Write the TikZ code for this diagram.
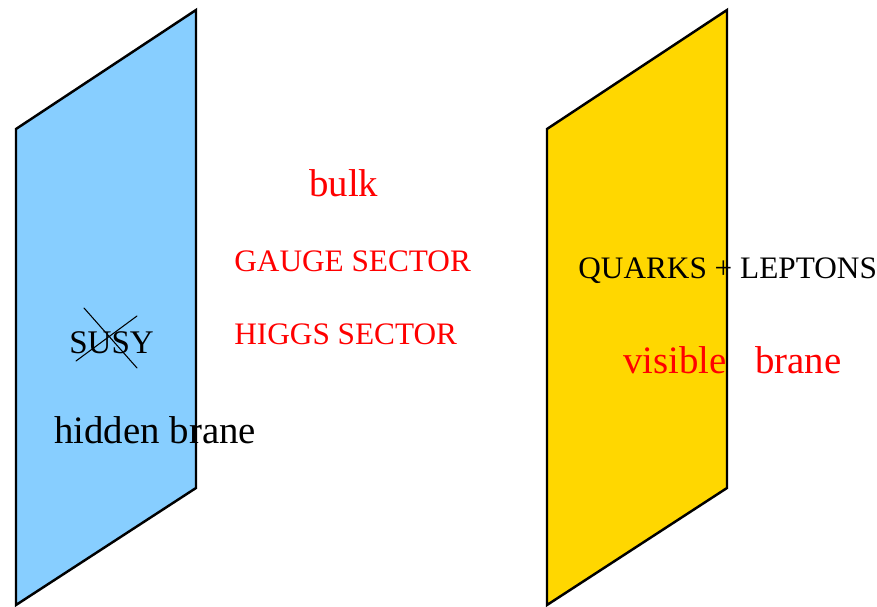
\documentclass[tikz,border=0pt]{standalone}
\usepackage{fontspec}
\setmainfont{Liberation Serif}
\definecolor{hiddenblue}{RGB}{135,206,255}
\definecolor{visiblegold}{RGB}{255,215,0}
\tikzset{
  brane/.style={draw=black, line width=1.4pt, line join=miter},
  caps/.style={inner sep=0pt, anchor=base west, font=\fontsize{17.8}{20}\selectfont},
  words/.style={inner sep=0pt, anchor=base west, font=\fontsize{22.1}{25}\selectfont},
}
\begin{document}
\begin{tikzpicture}[x=0.02cm, y=-0.02cm, line cap=round, line join=round]
\useasboundingbox (0,0) rectangle (877,607);
\path (16,129)coordinate(H1) (196,10)coordinate(H2) (196,488)coordinate(H3) (16,605)coordinate(H4);
\path (547,129)coordinate(V1) (727,10)coordinate(V2) (727,488)coordinate(V3) (547,605)coordinate(V4);
\draw[brane, fill=hiddenblue] (H1)--(H2)--(H3)--(H4)--cycle;
\draw[brane, fill=visiblegold] (V1)--(V2)--(V3)--(V4)--cycle;
% bulk
\node[words, text=red] (bulk) at (309,197) {bulk};
\node[caps, text=red] (gauge) at (234,272) {GAUGE SECTOR};
\node[caps, text=red] (higgs) at (234,345) {HIGGS SECTOR};
% hidden brane
\node[caps, font=\fontsize{18.8}{21}\selectfont] (susy) at (69,354) {SUSY};
\draw[line width=0.6pt] (84,308)--(137,368) (76,361)--(137,316);
\node[words] (hidden) at (54,444) {hidden brane};
% visible brane
\node[caps] (quarks) at (578,279) {QUARKS + LEPTONS};
\node[words, text=red] (visible) at (623,374) {visible};
\node[words, text=red] (brane) at (755,374) {brane};
\end{tikzpicture}
\end{document}
